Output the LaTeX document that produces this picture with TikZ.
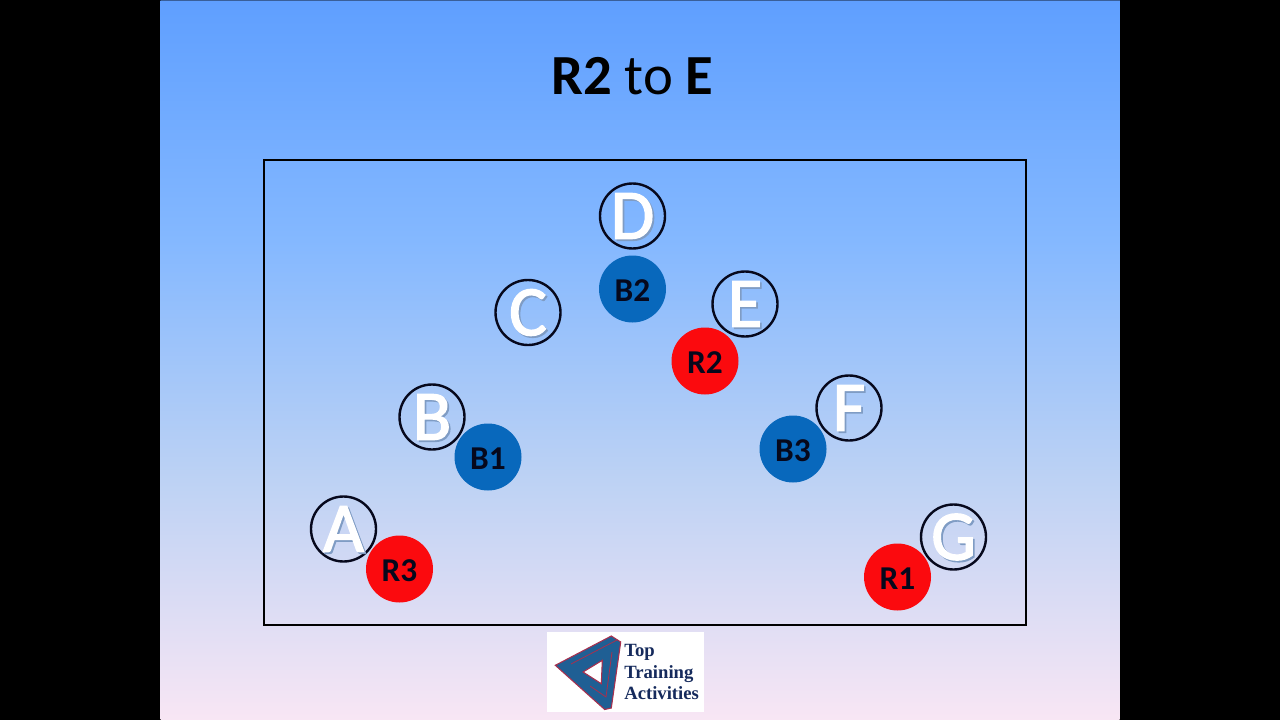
\documentclass[tikz,border=0pt]{standalone}
\usepackage{fontspec}
\setmainfont{Carlito}
\newfontfamily\logofont{Liberation Serif}
\newfontfamily\spotfont[FakeBold=2]{Carlito}
\newlength{\pxu}\setlength{\pxu}{0.75pt}
\definecolor{skyA}{HTML}{5F9FFF}
\definecolor{skyB}{HTML}{84B8FF}
\definecolor{skyC}{HTML}{BDD2F4}
\definecolor{skyD}{HTML}{F8E6F4}
\definecolor{redball}{HTML}{FB0A0E}
\definecolor{blueball}{HTML}{0868BC}
\definecolor{ink}{HTML}{06081C}
\definecolor{logoblue}{HTML}{1F5F94}
\definecolor{logored}{HTML}{A8304E}
\definecolor{logotext}{HTML}{152A5C}
\definecolor{lettershade}{HTML}{7F9CC4}
\pgfdeclareverticalshading{skyfade}{100bp}{color(0bp)=(skyD); color(25bp)=(skyD); color(41.67bp)=(skyC); color(58.33bp)=(skyB); color(75bp)=(skyA); color(100bp)=(skyA)}
\newcommand{\shadowed}[1]{\raisebox{-17pt}[0pt][0pt]{\makebox[0pt]{\rlap{\kern1.3pt\raisebox{-1.3pt}{\color{lettershade}#1}}{\color{white}#1}}}}
\newcommand{\balltext}[1]{\raisebox{-3pt}{#1}}
\tikzset{
  x=0.75pt,y=-0.75pt,
  spot/.style={circle,draw=ink,line width=1.8pt,minimum size=65\pxu,inner sep=0pt,font=\spotfont\fontsize{53}{53}\selectfont},
  ball/.style={circle,minimum size=67\pxu,inner sep=0pt,text=ink,font=\fontsize{25}{25}\selectfont\bfseries,text depth=0pt},
  redb/.style={ball,fill=redball},
  blueb/.style={ball,fill=blueball},
}
\begin{document}
\begin{tikzpicture}
\useasboundingbox (0,0) rectangle (1280,720);
\fill[black] (0,0) rectangle (1280,720);
\shade[shading=skyfade] (160.5,0) rectangle (1119.5,720);
\fill[black!40!skyA] (160.5,0) rectangle (1119.5,1);
\node[font=\fontsize{42.5}{42.5}\selectfont,text=black] (title) at (632.5,76) {\textbf{R2} to \textbf{E}};
\node[draw=black,line width=1.5pt,minimum width=762\pxu,minimum height=465\pxu,inner sep=0pt] (field) at (644.5,392.5) {};
\node[spot] (A) at (343.5,529) {\shadowed{A}};
\node[spot] (B) at (432,417) {\shadowed{B}};
\node[spot] (C) at (528,312.5) {\shadowed{C}};
\node[spot] (D) at (632.5,216) {\shadowed{D}};
\node[spot] (E) at (745,304) {\shadowed{E}};
\node[spot] (F) at (849,408) {\shadowed{F}};
\node[spot] (G) at (953.5,537) {\shadowed{G}};
\node[blueb] (B1) at (488,457) {\balltext{B1}};
\node[blueb] (B2) at (632.5,289) {\balltext{B2}};
\node[blueb] (B3) at (793,449) {\balltext{B3}};
\node[redb] (R1) at (897.5,577) {\balltext{R1}};
\node[redb] (R2) at (705,361) {\balltext{R2}};
\node[redb] (R3) at (399.5,569) {\balltext{R3}};
\node[fill=white,minimum width=157\pxu,minimum height=80\pxu,inner sep=0pt] (logo) at (625.5,672) {};
\fill[logoblue,draw=logored,line width=0.8pt,even odd rule]
  (555.3,665.3) -- (611.3,636) -- (620.7,642) -- (611.3,708) -- (604.7,709.5) -- cycle
  (602.3,660.3) -- (583,672) -- (601.3,683.7) -- cycle;
\draw[logored,line width=0.6pt] (571,664) -- (617,640) (590,686) -- (606,697) -- (612,652);
\node[anchor=west,align=left,inner sep=0pt,text=logotext,font=\logofont\fontsize{14}{16}\selectfont\bfseries] (logotxt) at (624,672) {Top\\Training\\Activities};
\end{tikzpicture}
\end{document}
